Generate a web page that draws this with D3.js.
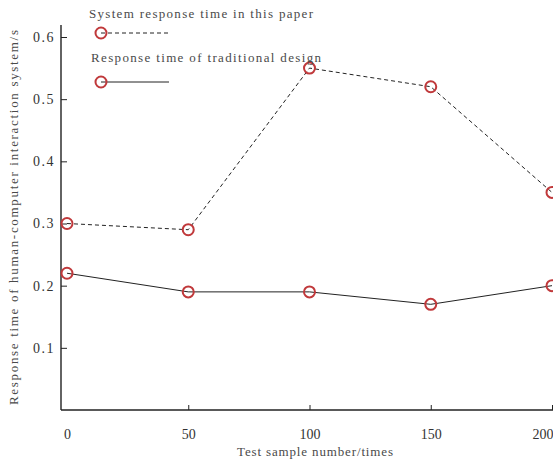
<!DOCTYPE html>
<html>
<head>
<meta charset="utf-8">
<script src="https://cdn.jsdelivr.net/npm/d3@7"></script>
<style>
  html, body { margin: 0; padding: 0; background: #fff; }
  svg { display: block; }
  text { font-family: "Liberation Serif", "DejaVu Serif", serif; }
</style>
</head>
<body>
<div id="chart"></div>
<script>
// data
var samples = [0, 50, 100, 150, 200];
var proposed = [0.30, 0.29, 0.55, 0.52, 0.35];     // System response time in this paper
var traditional = [0.22, 0.19, 0.19, 0.17, 0.20];  // Response time of traditional design
var xTicks = [0, 50, 100, 150, 200];
var yTicks = [0.1, 0.2, 0.3, 0.4, 0.5, 0.6];
var seriesNames = ["System response time in this paper", "Response time of traditional design"];

var W = 553, H = 460;
var red = "#c0393b", ink = "#222", grey = "#4a4a4a";

var svg = d3.select("#chart").append("svg")
  .attr("width", W).attr("height", H);

// scales
var x = d3.scaleLinear().domain([0, 200]).range([67, 552]);
var y = d3.scaleLinear().domain([0, 0.6]).range([410, 37]);

// axis lines
svg.append("line").attr("x1", 61).attr("x2", 61).attr("y1", 25).attr("y2", 410)
  .attr("stroke", ink).attr("stroke-width", 1.4);
svg.append("line").attr("x1", 61).attr("x2", W).attr("y1", 410).attr("y2", 410)
  .attr("stroke", ink).attr("stroke-width", 1.4);

// y axis
var gy = svg.append("g").attr("transform", "translate(61,0)")
  .call(d3.axisLeft(y).tickValues(yTicks).tickSize(-6).tickPadding(6)
    .tickFormat(function(d){ return d.toFixed(1); }));
gy.select(".domain").remove();
gy.selectAll(".tick line").attr("stroke", ink);
gy.selectAll(".tick text").attr("font-size", 14).attr("fill", "#333")
  .attr("font-family", "Liberation Serif, serif").attr("letter-spacing", 1.5);

// x axis
var gx = svg.append("g").attr("transform", "translate(0,410)")
  .call(d3.axisBottom(x).tickValues(xTicks).tickSize(-5).tickPadding(19));
gx.select(".domain").remove();
gx.selectAll(".tick line").attr("stroke", ink)
  .attr("opacity", function(d){ return d === 0 ? 0 : 1; });
gx.selectAll(".tick text").attr("font-size", 14).attr("fill", "#333")
  .attr("font-family", "Liberation Serif, serif")
  .attr("text-anchor", function(d){ return d === 200 ? "end" : "middle"; })
  .attr("x", function(d){ return d === 200 ? 1 : 0; });

// axis titles
svg.append("text").attr("x", 237).attr("y", 456)
  .attr("textLength", 156).attr("lengthAdjust", "spacing")
  .attr("font-size", 13).attr("fill", grey).text("Test sample number/times");
svg.append("text").attr("transform", "translate(18,405) rotate(-90)")
  .attr("textLength", 375).attr("lengthAdjust", "spacing")
  .attr("font-size", 13).attr("fill", grey)
  .text("Response time of human-computer interaction system/s");

// lines
var line = d3.line()
  .x(function(d, i){ return x(samples[i]); })
  .y(function(d){ return y(d); });

svg.append("path").datum(proposed).attr("d", line)
  .attr("fill", "none").attr("stroke", ink).attr("stroke-width", 1)
  .attr("stroke-dasharray", "4,3");
svg.append("path").datum(traditional).attr("d", line)
  .attr("fill", "none").attr("stroke", ink).attr("stroke-width", 1);

// markers
[proposed, traditional].forEach(function(s){
  svg.append("g").selectAll("circle").data(s).enter().append("circle")
    .attr("cx", function(d, i){ return x(samples[i]); })
    .attr("cy", function(d){ return y(d); })
    .attr("r", 5.5)
    .attr("fill", "none").attr("stroke", red).attr("stroke-width", 2);
});

// legend
var leg = [
  { ty: 18, tx: 89, len: 224, ly: 33, dash: "4,3" },
  { ty: 62, tx: 91, len: 230, ly: 82, dash: null }
];
leg.forEach(function(l, i){
  svg.append("text").attr("x", l.tx).attr("y", l.ty).attr("font-size", 13)
    .attr("textLength", l.len).attr("lengthAdjust", "spacing")
    .attr("fill", grey).text(seriesNames[i]);
  svg.append("line").attr("x1", 101).attr("x2", 169).attr("y1", l.ly).attr("y2", l.ly)
    .attr("stroke", ink).attr("stroke-width", 1)
    .attr("stroke-dasharray", l.dash);
  svg.append("circle").attr("cx", 101).attr("cy", l.ly).attr("r", 5.5)
    .attr("fill", "none").attr("stroke", red).attr("stroke-width", 2);
});
</script>
</body>
</html>
